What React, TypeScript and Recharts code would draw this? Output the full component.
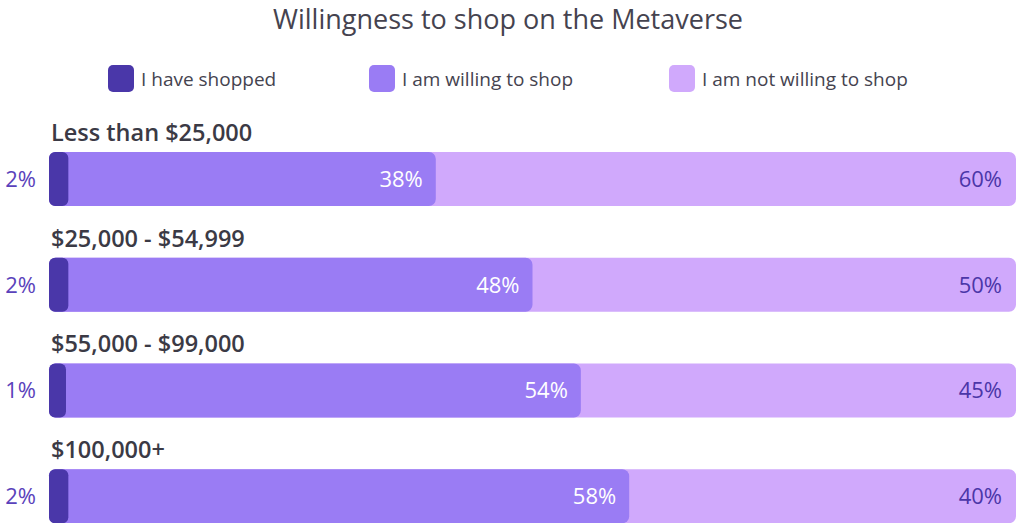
import { BarChart, Bar, XAxis, YAxis, LabelList } from 'recharts';

const incomeGroups = ['Less than $25,000', '$25,000 - $54,999', '$55,000 - $99,000', '$100,000+'];
const haveShopped = [2, 2, 1, 2];
const willingToShop = [38, 48, 54, 58];
const notWilling = [60, 50, 45, 40];

const seriesNames = ['I have shopped', 'I am willing to shop', 'I am not willing to shop'];
const colors = ['#4a37a9', '#9a7cf4', '#d0a9fc'];

const FONT = '"Open Sans", sans-serif';

// bars are drawn on top of each other, so each one ends at its running total
const chartData = incomeGroups.map((name, i) => ({
  name,
  shopped: haveShopped[i],
  willing: willingToShop[i],
  notWilling: notWilling[i],
  willingEnd: haveShopped[i] + willingToShop[i],
  total: haveShopped[i] + willingToShop[i] + notWilling[i],
}));

const legendLeft = [108, 369, 669];

function GroupTick(props: any) {
  const { y, payload } = props;
  return (
    <text x={51} y={y - 38} fill="#3b3a45" fontSize={23.5} fontWeight={600} fontFamily={FONT}>
      {payload.value}
    </text>
  );
}

const pct = (v: any) => `${v}%`;

export default function App() {
  return (
    <div
      style={{
        position: 'absolute',
        left: 0,
        top: 0,
        width: 1016,
        height: 523,
        overflow: 'hidden',
        background: '#fff',
        fontFamily: FONT,
      }}
    >
      <div
        style={{
          position: 'absolute',
          top: 0,
          left: 0,
          width: 1016,
          textAlign: 'center',
          fontSize: 27,
          fontWeight: 500,
          color: '#45434f',
          lineHeight: '37px',
        }}
      >
        Willingness to shop on the Metaverse
      </div>
      {seriesNames.map((s, i) => (
        <div
          key={s}
          style={{
            position: 'absolute',
            left: legendLeft[i],
            top: 65,
            height: 27,
            display: 'flex',
            alignItems: 'center',
          }}
        >
          <div style={{ width: 26, height: 27, borderRadius: 5, background: colors[i], marginRight: 7 }} />
          <span style={{ fontSize: 19, color: '#45434f' }}>{s}</span>
        </div>
      ))}
      <BarChart
        width={1016}
        height={560}
        data={chartData}
        layout="vertical"
        margin={{ top: 126, right: 0, bottom: 11, left: 0 }}
        barSize={54}
        barGap={-54}
        style={{ position: 'absolute', top: 0, left: 0 }}
      >
        <XAxis type="number" domain={[0, 100]} hide />
        <YAxis
          type="category"
          dataKey="name"
          width={49}
          axisLine={false}
          tickLine={false}
          tick={<GroupTick />}
        />
        <Bar dataKey="total" fill={colors[2]} radius={7} isAnimationActive={false}>
          <LabelList
            dataKey="notWilling"
            position="insideRight"
            offset={14}
            formatter={pct}
            fill="#4b36a8"
            fontSize={22}
            fontWeight={500}
            fontFamily={FONT}
          />
        </Bar>
        <Bar dataKey="willingEnd" fill={colors[1]} radius={7} isAnimationActive={false}>
          <LabelList
            dataKey="willing"
            position="insideRight"
            offset={13}
            formatter={pct}
            fill="#ffffff"
            fontSize={22}
            fontWeight={500}
            fontFamily={FONT}
          />
        </Bar>
        <Bar dataKey="shopped" fill={colors[0]} radius={6} minPointSize={17} isAnimationActive={false}>
          <LabelList
            dataKey="shopped"
            position="left"
            offset={13}
            formatter={pct}
            fill="#5a42bb"
            fontSize={22}
            fontWeight={500}
            fontFamily={FONT}
          />
        </Bar>
      </BarChart>
    </div>
  );
}
